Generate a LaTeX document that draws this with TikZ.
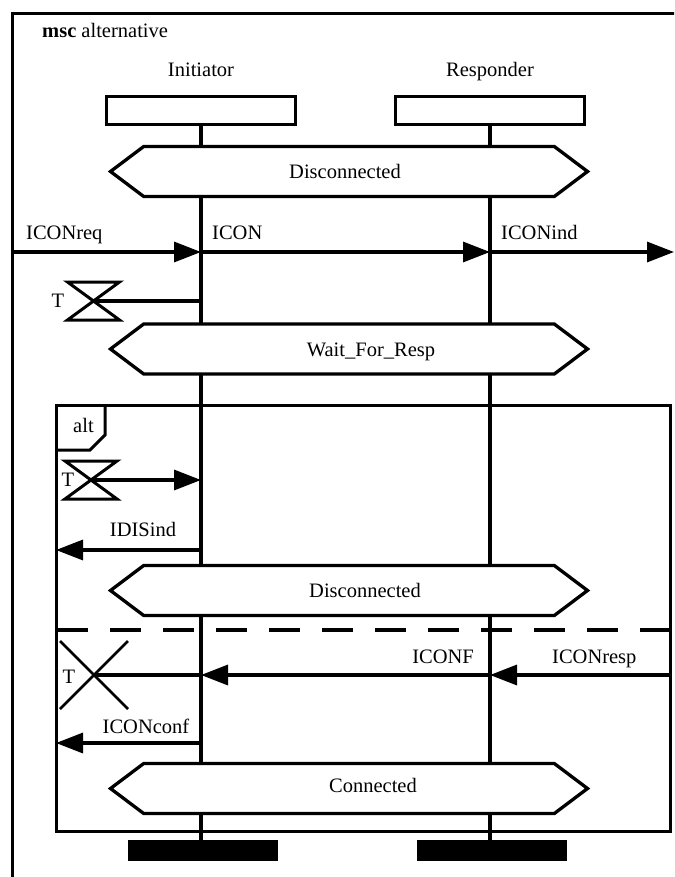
\documentclass[tikz,border=0pt]{standalone}
\usepackage{fontspec}
\setmainfont{Liberation Serif}
\usetikzlibrary{arrows.meta,shapes.symbols,calc}
\tikzset{
  inst/.style={draw,line width=3.3pt,minimum width=189pt,minimum height=28pt,inner sep=0pt},
  cond/.style={draw,fill=white,line width=3.3pt,shape=signal,signal to=west and east,signal pointer angle=74,minimum width=477pt,minimum height=50pt,inner sep=0pt},
  lline/.style={line width=3.3pt},
  msg/.style={line width=3.3pt,-{Triangle[length=27pt,width=20pt]}},
  bar/.style={fill=black,minimum width=150pt,minimum height=21pt,inner sep=0pt},
  lbl/.style={anchor=base west,inner sep=0pt},
  timerset/.pic={\draw[line width=3pt,fill=white] (-26,-19) -- (26,-19) -- (-26,19) -- (26,19) -- cycle;},
  timerstop/.pic={\draw[line width=2.5pt] (-34,-34) -- (34,34) (34,-34) -- (-34,34);},
}

\begin{document}
\begin{tikzpicture}[x=1pt,y=-1pt,every node/.style={font=\fontsize{20.5}{24}\selectfont}]
\clip (0,0) rectangle (674,877);
\draw[lline] (12.5,890) -- (12.5,13.5) -- (690,13.5);
\node[lbl] (title) at (42,38) {\textbf{msc} alternative};

% instances
\node[anchor=base] (inilbl) at (201,77) {Initiator};
\node[anchor=base] (rsplbl) at (490,77) {Responder};
\node[inst] (ini) at (201,110.5) {};
\node[inst] (rsp) at (490,110.5) {};
\node[bar] (iniend) at (203,850.5) {};
\node[bar] (rspend) at (491.5,850.5) {};
\draw[lline] (ini.south) -- (ini.south |- iniend.north);
\draw[lline] (rsp.south) -- (rsp.south |- rspend.north);

% alt frame
\coordinate (altnw) at (56,405);
\coordinate (altse) at (670,831);
\draw[line width=3pt] (altnw) rectangle (altse);
\draw[line width=3pt] (56,450) -- (90,450) -- (105,435) -- (105,405);
\node[lbl] (alt) at (73,432) {alt};
\draw[line width=3.3pt,dash pattern=on 31pt off 22pt] (57,630) -- (670,630);

% conditions
\node[cond] (d0) at (349,171.5) {};
\node[anchor=base] (d0t) at (345,179) {Disconnected};
\node[cond] (wfr) at (349,349) {};
\node[anchor=base] (wfrt) at (371,356) {Wait\_For\_Resp};
\node[cond] (d1) at (349,590.5) {};
\node[anchor=base] (d1t) at (365,597) {Disconnected};
\node[cond] (con) at (349,788.5) {};
\node[anchor=base] (cont) at (373,792) {Connected};

% ICON
\coordinate (e0) at (12,252);
\coordinate (i0) at (201,252);
\coordinate (r0) at (490,252);
\coordinate (e1) at (674,252);
\draw[msg] (e0) -- (i0);
\draw[msg] (i0) -- (r0);
\draw[msg] (r0) -- (e1);
\node[lbl] (m0) at (26,240) {ICONreq};
\node[lbl] (m1) at (212,240) {ICON};
\node[lbl] (m2) at (501,240) {ICONind};

% timer set
\coordinate (t1) at (93.5,301);
\coordinate (i1) at (201,301);
\draw[lline] (t1) -- (i1);
\pic at (t1) {timerset};
\node[anchor=base,inner sep=0pt] (tl1) at (58,307) {T};

% alt: timeout
\coordinate (t2) at (91,480);
\coordinate (i2) at (201,480);
\draw[msg] (t2) -- (i2);
\pic at (t2) {timerset};
\node[anchor=base,inner sep=0pt] (tl2) at (68,486) {T};
\coordinate (i3) at (201,550);
\coordinate (a3) at (56,550);
\draw[msg] (i3) -- (a3);
\node[anchor=base,inner sep=0pt] (m3) at (143,536) {IDISind};

% alt: response
\coordinate (t4) at (94,675);
\coordinate (i4) at (201,675);
\coordinate (r4) at (490,675);
\coordinate (a4) at (670,675);
\draw[lline] (i4) -- (t4);
\pic at (t4) {timerstop};
\node[anchor=base,inner sep=0pt] (tl4) at (69,683) {T};
\draw[msg] (r4) -- (i4);
\draw[msg] (a4) -- (r4);
\node[anchor=base east,inner sep=0pt] (m4) at (474,663) {ICONF};
\node[lbl] (m5) at (552,663) {ICONresp};
\coordinate (i5) at (201,743);
\coordinate (a5) at (56,743);
\draw[msg] (i5) -- (a5);
\node[anchor=base,inner sep=0pt] (m6) at (146,733) {ICONconf};
\end{tikzpicture}
\end{document}
